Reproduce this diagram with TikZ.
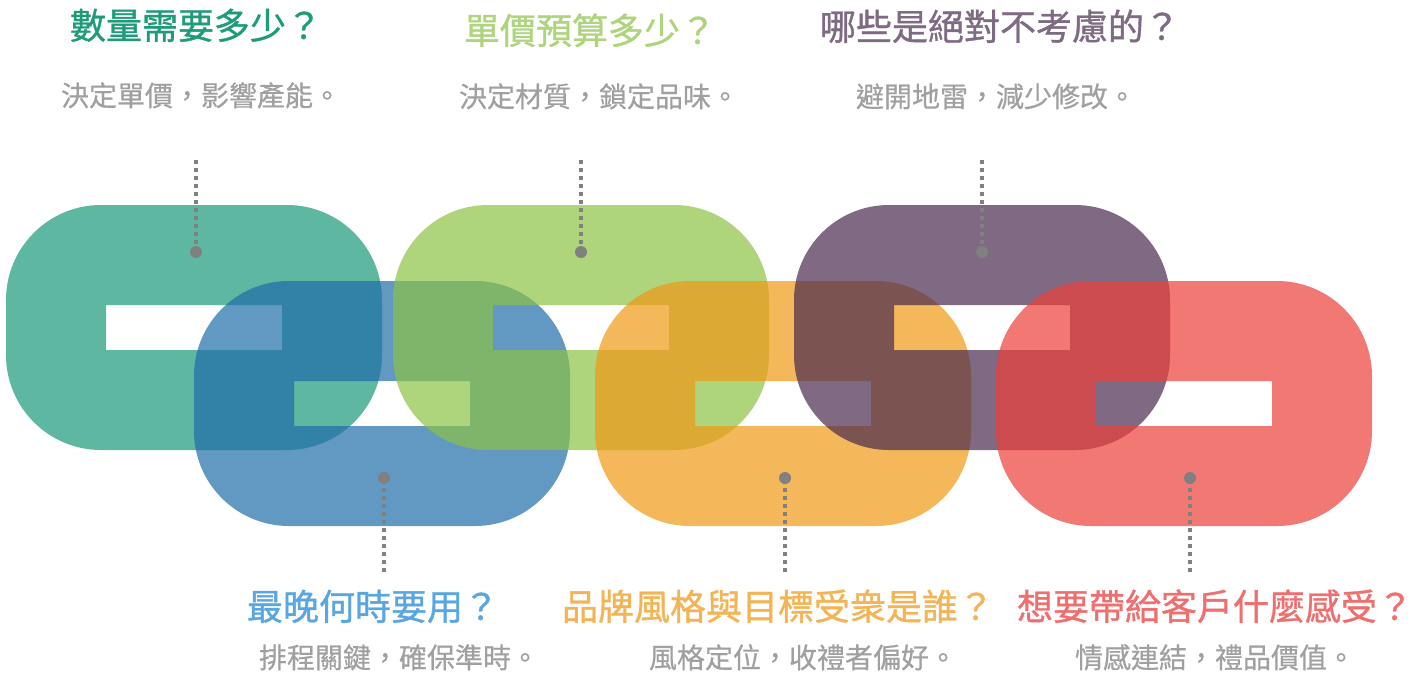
\documentclass[tikz,border=0pt]{standalone}
\usepackage{fontspec}
\setmainfont{Noto Sans CJK TC}
\newfontfamily\ttlfont{Noto Sans CJK TC}[FakeBold=1]
\newfontfamily\subfont{Noto Sans CJK TC}[FakeBold=0.6]
\definecolor{cgreen}{HTML}{1A9877}
\definecolor{cblue}{HTML}{1F6DA9}
\definecolor{clgreen}{HTML}{8BC245}
\definecolor{corange}{HTML}{EF9813}
\definecolor{cpurple}{HTML}{482A4E}
\definecolor{cred}{HTML}{EC3E38}
\definecolor{tgreen}{HTML}{1E9B78}
\definecolor{tlgreen}{HTML}{AED47D}
\definecolor{tpurple}{HTML}{7F6A83}
\definecolor{tblue}{HTML}{5AA6E0}
\definecolor{torange}{HTML}{F4B455}
\definecolor{tred}{HTML}{EF6E6E}
\definecolor{subgray}{HTML}{A0A0A0}
\definecolor{dotgray}{HTML}{808080}
\begin{document}
\begin{tikzpicture}[x=1pt,y=-1pt,
  linkshape/.style={fill opacity=0.7, even odd rule},
  ttl/.style={anchor=base, font=\ttlfont\fontsize{36}{40}\selectfont, inner sep=0pt},
  sub/.style={anchor=base, font=\subfont\fontsize{28}{32}\selectfont, text=subgray, inner sep=0pt},
  leader/.style={draw=dotgray, line width=4pt, dash pattern=on 4pt off 4pt},
  pin/.style={circle, fill=dotgray, minimum size=12pt, inner sep=0pt}]
\useasboundingbox (0,0) rectangle (1414,683);
% chain links
\fill[cgreen,linkshape] [rounded corners=95pt] (6,205) rectangle (382,450) [sharp corners] (106,305) rectangle (282,350);
\fill[cblue,linkshape] [rounded corners=95pt] (194,281) rectangle (570,526) [sharp corners] (294,381) rectangle (470,426);
\fill[clgreen,linkshape] [rounded corners=95pt] (393,205) rectangle (769,450) [sharp corners] (493,305) rectangle (669,350);
\fill[corange,linkshape] [rounded corners=95pt] (595,281) rectangle (971,526) [sharp corners] (695,381) rectangle (871,426);
\fill[cpurple,linkshape] [rounded corners=95pt] (794,205) rectangle (1170,450) [sharp corners] (894,305) rectangle (1070,350);
\fill[cred,linkshape] [rounded corners=95pt] (996,281) rectangle (1372,526) [sharp corners] (1096,381) rectangle (1272,426);
% pins and leaders (top)
\node[pin] (p1) at (196,252) {};
\node[pin] (p3) at (581,252) {};
\node[pin] (p5) at (982,252) {};
\coordinate (e1) at (196,160);
\coordinate (e3) at (581,160);
\coordinate (e5) at (982,160);
\draw[leader, shorten >=2pt] (e1) -- (p1.north);
\draw[leader, shorten >=2pt] (e3) -- (p3.north);
\draw[leader, shorten >=2pt] (e5) -- (p5.north);
% pins and leaders (bottom)
\node[pin] (p2) at (384,478) {};
\node[pin] (p4) at (785,478) {};
\node[pin] (p6) at (1190,478) {};
\coordinate (e2) at (384,572);
\coordinate (e4) at (785,572);
\coordinate (e6) at (1190,572);
\draw[leader, shorten <=4pt] (p2.south) -- (e2);
\draw[leader, shorten <=4pt] (p4.south) -- (e4);
\draw[leader, shorten <=4pt] (p6.south) -- (e6);
% texts top
\node[ttl, text=tgreen] (t1) at (196,39) {數量需要多少？};
\node[sub] (s1) at (201,106) {決定單價，影響產能。};
\node[ttl, text=tlgreen] (t3) at (590,44) {單價預算多少？};
\node[sub] (s3) at (599,107) {決定材質，鎖定品味。};
\node[ttl, text=tpurple] (t5) at (1000,40) {哪些是絕對不考慮的？};
\node[sub] (s5) at (996,107) {避開地雷，減少修改。};
% texts bottom
\node[ttl, text=tblue] (t2) at (373,620) {最晚何時要用？};
\node[sub] (s2) at (399,668) {排程關鍵，確保準時。};
\node[ttl, text=torange] (t4) at (778,620) {品牌風格與目標受衆是誰？};
\node[sub] (s4) at (803,668) {風格定位，收禮者偏好。};
\node[ttl, text=tred] (t6) at (1215,620) {想要帶給客戶什麼感受？};
\node[sub] (s6) at (1215,668) {情感連結，禮品價值。};
\end{tikzpicture}
\end{document}
